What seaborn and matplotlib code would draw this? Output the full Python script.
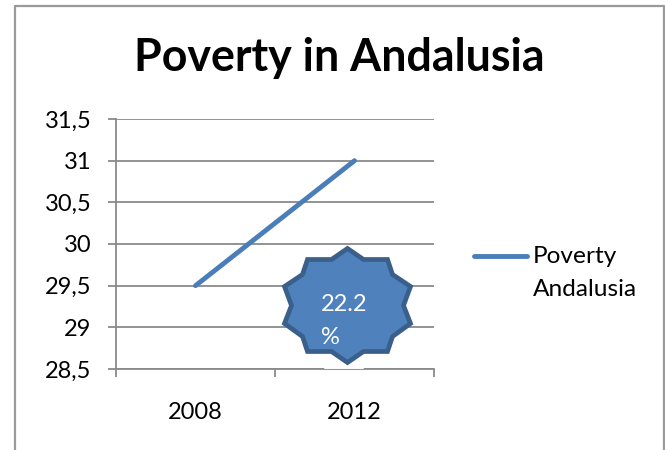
import matplotlib
matplotlib.use("Agg")
import matplotlib.pyplot as plt
from matplotlib.lines import Line2D
from matplotlib.patches import Polygon
import pandas as pd
import seaborn as sns

years = ["2008", "2012"]
poverty = [29.5, 31.0]
y_ticks = [28.5, 29, 29.5, 30, 30.5, 31, 31.5]
y_tick_labels = ["28,5", "29", "29,5", "30", "30,5", "31", "31,5"]
legend_lines = ["Poverty", "Andalusia"]
title_text = "Poverty in Andalusia"
badge_lines = ["22.2", "%"]

W, H = 665, 450
GRAY = "#8a8a8a"
BLUE = "#4a7ebb"
FONT_SIZE = 17

sns.set_theme(style="white")
plt.rcParams["font.family"] = ["Lato", "DejaVu Sans"]

fig = plt.figure(figsize=(W / 100, H / 100), dpi=100)
ax = fig.add_axes([116 / W, 1 - 369 / H, (434 - 116) / W, (369 - 119) / H])

df = pd.DataFrame({"year": years, "poverty": poverty})
sns.lineplot(data=df, x="year", y="poverty", ax=ax, color=BLUE, linewidth=3.5,
             solid_capstyle="round", zorder=3)

ax.set_yticks(y_ticks, y_tick_labels)
ax.set_xticks([0, 1], years)
ax.set_xlabel("")
ax.set_ylabel("")
ax.grid(axis="y", color=GRAY, linewidth=1.3)
ax.set_axisbelow(True)

for side in ("top", "right"):
    ax.spines[side].set_visible(False)
for side in ("left", "bottom"):
    ax.spines[side].set_color(GRAY)
    ax.spines[side].set_linewidth(1.3)

# Y ticks stick out left of the axis; X ticks separate the categories.
ax.tick_params(axis="y", left=True, length=5.8, width=1.3, color=GRAY,
               labelsize=FONT_SIZE, labelcolor="black", pad=12)
ax.tick_params(axis="x", bottom=False, labelsize=FONT_SIZE, labelcolor="black", pad=18)
for pos in (-0.5, 0.5, 1.5):
    ax.plot([pos, pos], [0, -0.032], color=GRAY, linewidth=1.3,
            transform=ax.get_xaxis_transform(), clip_on=False, solid_capstyle="butt")
ax.set_xlim(-0.5, 1.5)
ax.set_ylim(28.5, 31.5)


def px_line(xs, ys, **kw):
    fig.add_artist(Line2D([x / W for x in xs], [1 - y / H for y in ys],
                          transform=fig.transFigure, **kw))


# Frame around the chart area, open at the bottom.
px_line([15, 15, 664, 664], [450, 6, 6, 450], color="#9a9a9a", linewidth=1.6)

fig.text(339 / W, 1 - 71 / H, title_text, ha="center", va="baseline",
         fontsize=32.2, fontweight="bold", color="black")

# Legend entry beside the plot.
px_line([474, 527], [256, 256], color=BLUE, linewidth=3.5, solid_capstyle="round")
for line, baseline in zip(legend_lines, (263, 296)):
    fig.text(533 / W, 1 - baseline / H, line, fontsize=17.6, color="black", va="baseline")

# Ten-pointed star badge, outline in pixels relative to its centre.
star = [(0, -57), (16, -46), (40, -46), (45, -31), (63, -19), (56, 0), (63, 18),
        (45, 31), (40, 46), (16, 46), (0, 57), (-16, 46), (-40, 46), (-45, 31),
        (-63, 18), (-56, 0), (-63, -19), (-45, -31), (-40, -46), (-16, -46)]
cx, cy = 347.5, 305.5
pts = [((cx + dx) / W, 1 - (cy + dy) / H) for dx, dy in star]
fig.add_artist(Polygon(pts, closed=True, transform=fig.transFigure, facecolor="#4f81bd",
                       edgecolor="#3a5f8b", linewidth=3.4, joinstyle="miter", zorder=5))
for line, baseline in zip(badge_lines, (311, 344)):
    fig.text(321 / W, 1 - baseline / H, line, color="white", fontsize=FONT_SIZE,
             zorder=6, va="baseline")

# Sliver of white just under the star, breaking the axis line.
px_line([325, 363], [367.5, 367.5], color="white", linewidth=1.4, zorder=4)

fig.savefig("out.png", dpi=100)
